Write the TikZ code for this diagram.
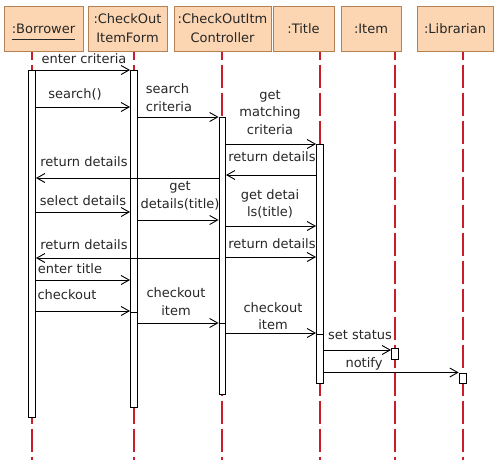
\documentclass[tikz,border=0pt]{standalone}
\usepackage{fontspec}
\setmainfont{DejaVu Sans}
\usetikzlibrary{arrows.meta}
\definecolor{headfill}{RGB}{252,214,178}
\definecolor{headline}{RGB}{181,129,84}
\definecolor{lifered}{RGB}{200,30,40}
\tikzset{head/.style={
    draw=headline, fill=headfill, line width=1pt,
    minimum height=45pt, inner sep=0pt, align=center,
    font=\fontsize{13}{19}\selectfont, text=black!85
  },
  life/.style={lifered, line width=1.8pt, dash pattern=on 23pt off 5pt, dash phase=15pt},
  bar/.style={draw, fill=white, line width=1pt, minimum width=7pt, inner sep=0pt, anchor=north},
  msg/.style={line width=0.9pt, -{Straight Barb[length=8pt,width=9pt]}},
  lbl/.style={font=\fontsize{13}{17.5}\selectfont, align=center, inner sep=0pt, text=black!85}
}
\begin{document}
\begin{tikzpicture}[x=1pt,y=-1pt]
    \useasboundingbox (0,0) rectangle (501,464);

    \node[head, minimum width=79pt] (borrower) at (43.5,28.5)
        {\raisebox{0pt}[\height][0pt]{\underline{\raisebox{0pt}[\height][4.5pt]{:Borrower}}}};
    \node[head, minimum width=79pt] (form) at (127.5,28.5) {:CheckOut\\ItemForm};
    \node[head, minimum width=97pt] (ctrl) at (222.5,28.5) {:CheckOutItm\\Controller};
    \node[head, minimum width=61pt] (title) at (303.5,28.5) {:Title};
    \node[head, minimum width=60pt] (item) at (371,28.5) {:Item};
    \node[head, minimum width=76pt] (lib) at (455,28.5) {:Librarian};

    \foreach \n/\x in {borrower/32,form/134,ctrl/222.3,title/320,item/395,lib/462.7}
        \draw[life] (\n.south -| \x,0) -- (\x,460);

    \node[bar, minimum height=347pt] (actB) at (32,70) {};
    \node[bar, minimum height=337pt] (actF) at (134,70) {};
    \node[bar, minimum height=277pt, minimum width=6.5pt] (actC) at (222.3,117) {};
    \node[bar, minimum height=239pt] (actT) at (320,144) {};
    \node[bar, minimum height=11pt] (actI) at (395,348) {};
    \node[bar, minimum height=10.5pt] (actL) at (462.7,372.5) {};

    \draw[msg] (actB.east |- 0,70) -- (actF.west |- 0,70);
    \node[lbl] (m1) at (84,59) {enter criteria};
    \draw[msg] (actB.east |- 0,107) -- (actF.west |- 0,107);
    \node[lbl] (m2) at (75,94) {search()};
    \draw[msg] (actF.east |- 0,117) -- (actC.west |- 0,117);
    \node[lbl, align=left] (m3) at (169,97.5) {search\\criteria};
    \draw[msg] (actC.east |- 0,144) -- (actT.west |- 0,144);
    \node[lbl] (m4) at (270,112.5) {get\\matching\\criteria};
    \draw[msg] (actT.west |- 0,175) -- (actC.east |- 0,175);
    \node[lbl] (m5) at (272,157) {return details};
    \draw[msg] (actC.west |- 0,178) -- (actB.east |- 0,178);
    \node[lbl] (m6) at (84,162) {return details};
    \draw[msg] (actB.east |- 0,212) -- (actF.west |- 0,212);
    \node[lbl] (m7) at (83,201) {select details};
    \draw[msg] (actF.east |- 0,220) -- (actC.west |- 0,220);
    \node[lbl] (m8) at (180,196) {get\\details(title)};
    \draw[msg] (actC.east |- 0,226) -- (actT.west |- 0,226);
    \node[lbl] (m9) at (270,204) {get detai\\ls(title)};
    \draw[msg] (actC.east |- 0,257) -- (actT.west |- 0,257);
    \node[lbl] (m10) at (272,244) {return details};
    \draw[msg] (actC.west |- 0,258) -- (actB.east |- 0,258);
    \node[lbl] (m11) at (84,245) {return details};
    \draw[msg] (actB.east |- 0,280) -- (actF.west |- 0,280);
    \node[lbl] (m12) at (70,269) {enter title};
    \draw[msg] (actB.east |- 0,311) -- (actF.west |- 0,311);
    \draw (actF.west |- 0,312) -- (actF.east |- 0,312);
    \node[lbl] (m13) at (67,295) {checkout};
    \draw[msg] (actF.east |- 0,323) -- (actC.west |- 0,323);
    \draw (actC.west |- 0,323) -- (actC.east |- 0,323);
    \node[lbl] (m14) at (176,301.5) {checkout\\item};
    \draw[msg] (actC.east |- 0,333) -- (actT.west |- 0,333);
    \draw (actT.west |- 0,334) -- (actT.east |- 0,334);
    \node[lbl] (m15) at (273,316) {checkout\\item};
    \draw[msg] (actT.east |- 0,350) -- (actI.west |- 0,350);
    \node[lbl] (m16) at (360,335) {set status};
    \draw[msg] (actT.east |- 0,372.5) -- (actL.west |- 0,372.5);
    \node[lbl] (m17) at (364,364) {notify};
\end{tikzpicture}
\end{document}
